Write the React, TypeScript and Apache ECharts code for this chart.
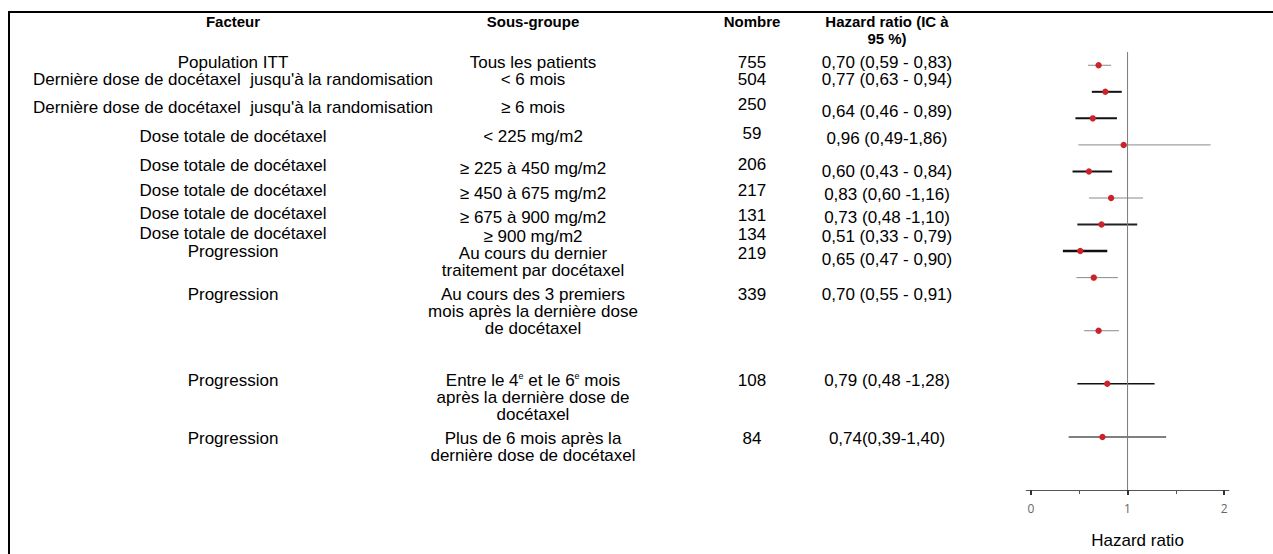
import React, { useEffect, useRef } from "react";
import * as echarts from "echarts";

// ---------- data ----------
const headers = ["Facteur", "Sous-groupe", "Nombre", "Hazard ratio (IC à\n95 %)"];
const factors = [
  "Population ITT",
  "Dernière dose de docétaxel  jusqu'à la randomisation",
  "Dernière dose de docétaxel  jusqu'à la randomisation",
  "Dose totale de docétaxel",
  "Dose totale de docétaxel",
  "Dose totale de docétaxel",
  "Dose totale de docétaxel",
  "Dose totale de docétaxel",
  "Progression",
  "Progression",
  "Progression",
  "Progression",
];
const subgroups = [
  "Tous les patients",
  "< 6 mois",
  "≥ 6 mois",
  "< 225 mg/m2",
  "≥ 225 à 450 mg/m2",
  "≥ 450 à 675 mg/m2",
  "≥ 675 à 900 mg/m2",
  "≥ 900 mg/m2",
  "Au cours du dernier\ntraitement par docétaxel",
  "Au cours des 3 premiers\nmois après la dernière dose\nde docétaxel",
  "Entre le 4{sup|e} et le 6{sup|e} mois\naprès la dernière dose de\ndocétaxel",
  "Plus de 6 mois après la\ndernière dose de docétaxel",
];
const counts = [755, 504, 250, 59, 206, 217, 131, 134, 219, 339, 108, 84];
const hrLabels = [
  "0,70 (0,59 - 0,83)",
  "0,77 (0,63 - 0,94)",
  "0,64 (0,46 - 0,89)",
  "0,96 (0,49-1,86)",
  "0,60 (0,43 - 0,84)",
  "0,83 (0,60 -1,16)",
  "0,73 (0,48 -1,10)",
  "0,51 (0,33 - 0,79)",
  "0,65 (0,47 - 0,90)",
  "0,70 (0,55 - 0,91)",
  "0,79 (0,48 -1,28)",
  "0,74(0,39-1,40)",
];
const hr = [0.7, 0.77, 0.64, 0.96, 0.6, 0.83, 0.73, 0.51, 0.65, 0.7, 0.79, 0.74];
const ciLow = [0.59, 0.63, 0.46, 0.49, 0.43, 0.6, 0.48, 0.33, 0.47, 0.55, 0.48, 0.39];
const ciHigh = [0.83, 0.94, 0.89, 1.86, 0.84, 1.16, 1.1, 0.79, 0.9, 0.91, 1.28, 1.4];
const xTickValues = [0, 1, 2];
const xMinorTickValues = [0.5, 1.5];
const axisTitle = "Hazard ratio";

// ---------- layout (positions / styles) ----------
const plotSlot = [0, 1, 2, 3, 4, 5, 6, 7, 8, 10, 12, 14];
const colX = [233, 533, 752, 887];
const headerY = [21, 21, 21, 21];
const facY = [62, 79, 107, 136, 165, 190, 213, 233, 251, 294, 380, 438];
const subY = [62, 79, 107, 136, 168, 193, 217, 236, 253, 294, 380, 438];
const numY = [62, 79, 104, 133, 164, 190, 215, 234, 253, 294, 380, 438];
const hrY = [62, 79, 111, 138, 171, 194, 217, 236, 259, 294, 380, 438];
const ciStyle = [
  { color: "#8a8a8a", width: 1 },
  { color: "#111111", width: 2 },
  { color: "#111111", width: 2 },
  { color: "#8a8a8a", width: 1 },
  { color: "#111111", width: 2 },
  { color: "#8a8a8a", width: 1 },
  { color: "#222222", width: 2 },
  { color: "#111111", width: 2.5 },
  { color: "#8a8a8a", width: 1 },
  { color: "#8a8a8a", width: 1 },
  { color: "#111111", width: 1.5 },
  { color: "#555555", width: 1.5 },
];

const FONT = "'Liberation Sans', Arial, sans-serif";
const FS = 17;
const LH = 17;

function txt(text: string, x: number, yFirst: number, bold = false, size = FS) {
  return {
    type: "text",
    x,
    y: yFirst - LH / 2,
    silent: true,
    style: {
      text,
      fill: "#000",
      fontFamily: FONT,
      fontSize: size,
      fontWeight: bold ? "bold" : "normal",
      align: "center",
      verticalAlign: "top",
      lineHeight: LH,
      rich: {
        sup: { fontSize: 9, verticalAlign: "top", lineHeight: LH, fontFamily: FONT, fill: "#000" },
      },
    },
  };
}

export default function App() {
  const ref = useRef<HTMLDivElement>(null);
  useEffect(() => {
    if (!ref.current) return;
    const chart = echarts.init(ref.current, undefined, { renderer: "svg" });

    const graphics: any[] = [];
    // frame lines
    graphics.push({ type: "rect", shape: { x: 8, y: 11, width: 1265, height: 2 }, style: { fill: "#000" }, silent: true });
    graphics.push({ type: "rect", shape: { x: 8, y: 11, width: 2, height: 543 }, style: { fill: "#000" }, silent: true });
    headers.forEach((h, i) => graphics.push(txt(h, colX[i], headerY[i], true, 15)));
    factors.forEach((t, i) => graphics.push(txt(t, colX[0], facY[i])));
    subgroups.forEach((t, i) => graphics.push(txt(t, colX[1], subY[i])));
    counts.forEach((t, i) => graphics.push(txt(String(t), colX[2], numY[i])));
    hrLabels.forEach((t, i) => graphics.push(txt(t, colX[3], hrY[i])));

    const ciData = hr.map((v, i) => [plotSlot[i], ciLow[i], ciHigh[i], v]);

    chart.setOption({
      animation: false,
      grid: { left: 1026.2, top: 52, width: 202.7, height: 440.7 },
      xAxis: [
        {
          type: "value",
          min: -0.05,
          max: 2.05,
          position: "bottom",
          splitLine: { show: false },
          axisLine: { show: true, onZero: false, lineStyle: { color: "#555", width: 1 } },
          axisTick: { show: true, customValues: xTickValues, length: 5, lineStyle: { color: "#333", width: 2 } },
          axisLabel: { customValues: xTickValues, color: "#666", fontSize: 12, margin: 12, fontFamily: "'Open Sans', sans-serif" },
          name: axisTitle,
          nameLocation: "middle",
          nameGap: 42,
          nameTextStyle: { color: "#000", fontSize: 17, fontFamily: FONT, padding: [0, 0, 0, 20] },
        },
        {
          type: "value",
          min: -0.05,
          max: 2.05,
          position: "bottom",
          splitLine: { show: false },
          axisLine: { show: false, onZero: false },
          axisTick: { show: true, customValues: xMinorTickValues, length: 4, lineStyle: { color: "#555", width: 1 } },
          axisLabel: { show: false },
        },
      ],
      yAxis: { type: "value", min: -0.5, max: 16, inverse: true, show: false },
      series: [
        {
          type: "line",
          xAxisIndex: 0,
          data: [[1, -0.5], [1, 16]],
          symbol: "none",
          lineStyle: { color: "#7a7a7a", width: 1 },
          silent: true,
        },
        {
          type: "custom",
          xAxisIndex: 0,
          data: ciData,
          encode: { x: [1, 2, 3], y: 0 },
          renderItem: (params: any, api: any) => {
            const y = api.value(0);
            const lo = api.coord([api.value(1), y]);
            const hi = api.coord([api.value(2), y]);
            const pt = api.coord([api.value(3), y]);
            const st = ciStyle[params.dataIndex];
            return {
              type: "group",
              children: [
                { type: "line", shape: { x1: lo[0], y1: lo[1], x2: hi[0], y2: hi[1] }, style: { stroke: st.color, lineWidth: st.width } },
                { type: "circle", shape: { cx: pt[0], cy: pt[1], r: 3.2 }, style: { fill: "#cc2229" } },
              ],
            };
          },
        },
      ],
      graphic: graphics,
    });
    return () => chart.dispose();
  }, []);
  return <div ref={ref} style={{ position: "absolute", left: 0, top: 0, width: 1273, height: 554, background: "#fff" }} />;
}
